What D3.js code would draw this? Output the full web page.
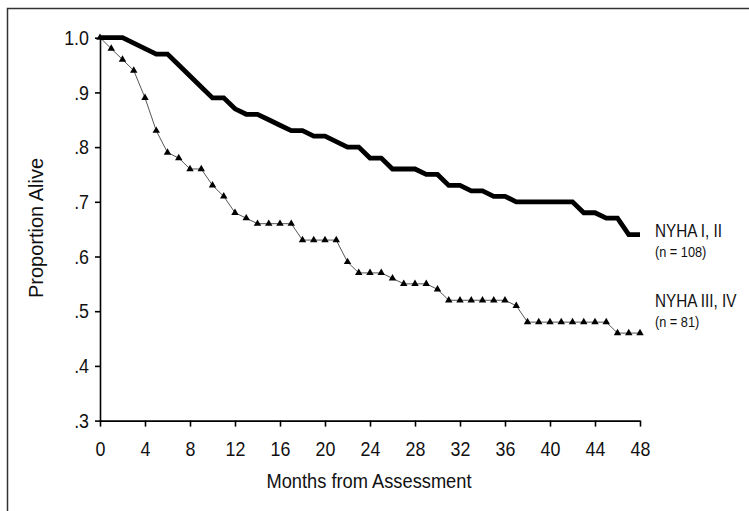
<!DOCTYPE html>
<html>
<head>
<meta charset="utf-8">
<script src="https://cdn.jsdelivr.net/npm/d3@7"></script>
<style>
  html, body { margin: 0; padding: 0; background: #fff; }
  svg text { font-family: "Liberation Sans", Arial, sans-serif; fill: #111; }
</style>
</head>
<body>
<div id="chart"></div>
<script>
// Meses desde la evaluación (eje X)
const months = [0,1,2,3,4,5,6,7,8,9,10,11,12,13,14,15,16,17,18,19,20,21,22,23,24,
  25,26,27,28,29,30,31,32,33,34,35,36,37,38,39,40,41,42,43,44,45,46,47,48];

// Proporción viva, NYHA I, II (línea gruesa)
const nyha12 = [1.00,1.00,1.00,.99,.98,.97,.97,.95,.93,.91,.89,.89,.87,.86,.86,.85,.84,.83,.83,
  .82,.82,.81,.80,.80,.78,.78,.76,.76,.76,.75,.75,.73,.73,.72,.72,.71,.71,.70,.70,.70,.70,.70,.70,
  .68,.68,.67,.67,.64,.64];

// Proporción viva, NYHA III, IV (línea fina con triángulos)
const nyha34 = [1.00,.98,.96,.94,.89,.83,.79,.78,.76,.76,.73,.71,.68,.67,.66,.66,.66,.66,.63,
  .63,.63,.63,.59,.57,.57,.57,.56,.55,.55,.55,.54,.52,.52,.52,.52,.52,.52,.51,.48,.48,.48,.48,.48,
  .48,.48,.48,.46,.46,.46];

const xTicks = [0,4,8,12,16,20,24,28,32,36,40,44,48];
const yTicks = [.3,.4,.5,.6,.7,.8,.9,1.0];
const yTickLabels = [".3",".4",".5",".6",".7",".8",".9","1.0"];

const W = 749, H = 511;
const NARROW = 0.85; // la fuente original es estrecha (tipo Arial Narrow)

const svg = d3.select("#chart").append("svg")
  .attr("width", W).attr("height", H);

// marco exterior (solo se ven los bordes superior e izquierdo)
svg.append("rect")
  .attr("x", 7.5).attr("y", 8.5)
  .attr("width", 900).attr("height", 700)
  .attr("fill", "none").attr("stroke", "#333").attr("stroke-width", 1.5);

const x = d3.scaleLinear().domain([0, 48]).range([100, 640]);
const y = d3.scaleLinear().domain([0.3, 1.0]).range([420.6, 37.7]);

// Eje Y
const yAxis = svg.append("g")
  .attr("transform", `translate(${x(0)},0)`)
  .call(d3.axisLeft(y)
    .tickValues(yTicks)
    .tickFormat((d, i) => yTickLabels[i])
    .tickSize(5).tickSizeOuter(0).tickPadding(6));
yAxis.select(".domain").attr("stroke", "#000").attr("stroke-width", 1.6);
yAxis.selectAll(".tick line").attr("stroke", "#000").attr("stroke-width", 1.6);
yAxis.selectAll(".tick text")
  .style("font-size", "21px").attr("fill", "#111")
  .attr("x", -11 / NARROW)
  .attr("transform", `scale(${NARROW},1)`);

// Eje X
const xAxis = svg.append("g")
  .attr("transform", `translate(0,${y(0.3)})`)
  .call(d3.axisBottom(x)
    .tickValues(xTicks)
    .tickSize(6).tickSizeOuter(0).tickPadding(15));
xAxis.select(".domain").attr("stroke", "#000").attr("stroke-width", 1.6);
xAxis.selectAll(".tick line").attr("stroke", "#000").attr("stroke-width", 1.6);
xAxis.selectAll(".tick text")
  .style("font-size", "21px").attr("fill", "#111")
  .attr("transform", `scale(${NARROW},1)`);

// Títulos de ejes
svg.append("text")
  .attr("transform", `translate(369,488) scale(0.87,1)`)
  .attr("text-anchor", "middle")
  .style("font-size", "21px")
  .text("Months from Assessment");

svg.append("text")
  .attr("transform", "translate(43,228) rotate(-90)")
  .attr("text-anchor", "middle")
  .style("font-size", "20px")
  .text("Proportion Alive");

const line = d3.line()
  .x((d, i) => x(months[i]))
  .y(d => y(d));

// NYHA III, IV
svg.append("path")
  .datum(nyha34)
  .attr("d", line)
  .attr("fill", "none")
  .attr("stroke", "#555")
  .attr("stroke-width", 1);

svg.selectAll(".tri")
  .data(nyha34)
  .enter()
  .append("path")
  .attr("class", "tri")
  .attr("transform", (d, i) => `translate(${x(months[i])},${y(d)})`)
  .attr("d", d3.symbol().type(d3.symbolTriangle).size(24))
  .attr("fill", "#000");

// NYHA I, II
svg.append("path")
  .datum(nyha12)
  .attr("d", line)
  .attr("fill", "none")
  .attr("stroke", "#000")
  .attr("stroke-width", 4.8)
  .attr("stroke-linejoin", "miter");

// Etiquetas de series
const labels = [
  { name: "NYHA I, II", n: "(n = 108)", y: 237 },
  { name: "NYHA III, IV", n: "(n = 81)", y: 307 }
];
labels.forEach(l => {
  svg.append("text")
    .attr("transform", `translate(655,${l.y}) scale(${NARROW},1)`)
    .style("font-size", "18px").text(l.name);
  svg.append("text")
    .attr("transform", `translate(655,${l.y + 20}) scale(${NARROW},1)`)
    .style("font-size", "15px").text(l.n);
});
</script>
</body>
</html>
